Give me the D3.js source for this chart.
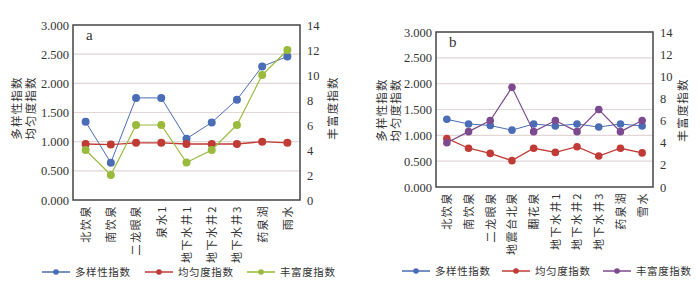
<!DOCTYPE html>
<html>
<head>
<meta charset="utf-8">
<script src="https://cdn.jsdelivr.net/npm/d3@7"></script>
<style>
  body { margin: 0; background: #fff; }
  svg text { font-family: "Liberation Serif", "Noto Sans CJK SC", serif; fill: #333; }
</style>
</head>
<body>
<div id="chart"></div>
<script>
// panel a data
const catsA = ["北饮泉", "南饮泉", "二龙眼泉", "泉水1", "地下水井1", "地下水井2", "地下水井3", "药泉湖", "雨水"];
const diversityA = [1.34, 0.64, 1.75, 1.75, 1.05, 1.33, 1.72, 2.29, 2.46];
const evennessA = [0.96, 0.95, 0.98, 0.98, 0.96, 0.96, 0.96, 1.00, 0.98];
const richnessA = [4, 2, 6, 6, 3, 4, 6, 10, 12];

// panel b data
const catsB = ["北饮泉", "南饮泉", "二龙眼泉", "地震台北泉", "翻花泉", "地下水井1", "地下水井2", "地下水井3", "药泉湖", "雪水"];
const diversityB = [1.31, 1.22, 1.19, 1.10, 1.22, 1.18, 1.22, 1.16, 1.22, 1.18];
const evennessB = [0.94, 0.75, 0.65, 0.51, 0.75, 0.67, 0.78, 0.60, 0.75, 0.66];
const richnessB = [4, 5, 6, 9, 5, 6, 5, 7, 5, 6];

const leftTicks = [0, 0.5, 1, 1.5, 2, 2.5, 3];
const rightTicks = [0, 2, 4, 6, 8, 10, 12, 14];
const seriesNames = ["多样性指数", "均匀度指数", "丰富度指数"];

const BLUE = "#4a6db5", RED = "#c03b35", GREEN = "#9aba3c", PURPLE = "#7c4a8e";

var svg = d3.select("#chart").append("svg")
    .attr("width", 700)
    .attr("height", 288);

drawPanel({
    letter: "a", cats: catsA, div: diversityA, even: evennessA, rich: richnessA,
    x0: 73, x1: 300, y0: 25, y1: 200, richColor: GREEN, r: 4,
    leftTitleX: 17, rightTitleX: 333, titleY: 108,
    legendX: [42, 145, 247], legendY: 272
});

drawPanel({
    letter: "b", cats: catsB, div: diversityB, even: evennessB, rich: richnessB,
    x0: 436, x1: 653, y0: 32, y1: 187, richColor: PURPLE, r: 3.8,
    leftTitleX: 382, rightTitleX: 683, titleY: 110,
    legendX: [402, 502, 603], legendY: 271
});

function drawPanel(p) {
    var g = svg.append("g");

    var x = d3.scalePoint().domain(p.cats).range([p.x0, p.x1]).padding(0.5);
    var yL = d3.scaleLinear().domain([0, 3]).range([p.y1, p.y0]);
    var yR = d3.scaleLinear().domain([0, 14]).range([p.y1, p.y0]);

    //grid lines
    g.selectAll(".grid")
        .data(leftTicks.filter(function(t) { return t > 0 && t < 3; }))
        .enter().append("line")
        .attr("x1", p.x0).attr("x2", p.x1)
        .attr("y1", function(d) { return yL(d); })
        .attr("y2", function(d) { return yL(d); })
        .attr("stroke", "#e2d6d6")
        .attr("stroke-width", 1.2);

    //left axis
    var axL = g.append("g")
        .attr("transform", "translate(" + p.x0 + ",0)")
        .call(d3.axisLeft(yL).tickValues(leftTicks).tickFormat(d3.format(".3f")).tickSize(0).tickPadding(4));
    //right axis
    var axR = g.append("g")
        .attr("transform", "translate(" + p.x1 + ",0)")
        .call(d3.axisRight(yR).tickValues(rightTicks).tickSize(0).tickPadding(7));
    [axL, axR].forEach(function(ax) {
        ax.select(".domain").remove();
        ax.selectAll("text").attr("font-size", 12.5).attr("fill", "#333")
            .style("font-family", "'Liberation Serif', serif");
    });

    //bottom axis labels, rotated
    var axB = g.append("g")
        .attr("transform", "translate(0," + p.y1 + ")")
        .call(d3.axisBottom(x).tickSize(0));
    axB.select(".domain").remove();
    axB.selectAll("text")
        .attr("font-size", 11)
        .attr("letter-spacing", 1.6)
        .attr("text-anchor", "end")
        .attr("transform", "rotate(-90)")
        .attr("x", -5)
        .attr("y", 0)
        .attr("dy", "0.35em")
        .attr("fill", "#333")
        .style("font-family", "'Noto Sans CJK SC', sans-serif");

    //frame
    g.append("rect")
        .attr("x", p.x0).attr("y", p.y0)
        .attr("width", p.x1 - p.x0).attr("height", p.y1 - p.y0)
        .attr("fill", "none")
        .attr("stroke", "#444")
        .attr("stroke-width", 1.5);

    //panel letter
    g.append("text")
        .attr("x", p.x0 + 13).attr("y", p.y0 + 15)
        .attr("font-size", 15)
        .text(p.letter);

    //axis titles
    var titles = [
        { x: p.leftTitleX, t: seriesNames[0] },
        { x: p.leftTitleX + 14, t: seriesNames[1] },
        { x: p.rightTitleX, t: seriesNames[2] }
    ];
    titles.forEach(function(t) {
        g.append("text")
            .attr("transform", "translate(" + t.x + "," + p.titleY + ") rotate(-90)")
            .attr("text-anchor", "middle").attr("dy", "0.35em")
            .attr("font-size", 11.5).attr("letter-spacing", 1.2)
            .style("font-family", "'Noto Sans CJK SC', sans-serif")
            .text(t.t);
    });

    //series
    var series = [
        { vals: p.div, y: yL, color: BLUE, w: 1 },
        { vals: p.even, y: yL, color: RED, w: 1.3 },
        { vals: p.rich, y: yR, color: p.richColor, w: 1.2 }
    ];
    series.forEach(function(s) {
        var pts = p.cats.map(function(c, i) { return [x(c), s.y(s.vals[i])]; });
        g.append("path")
            .attr("d", d3.line()(pts))
            .attr("fill", "none")
            .attr("stroke", s.color)
            .attr("stroke-width", s.w);
        g.selectAll(null)
            .data(pts)
            .enter().append("circle")
            .attr("cx", function(d) { return d[0]; })
            .attr("cy", function(d) { return d[1]; })
            .attr("r", p.r)
            .attr("fill", s.color);
    });

    //legend
    series.forEach(function(s, i) {
        var lx = p.legendX[i];
        g.append("line")
            .attr("x1", lx).attr("x2", lx + 28)
            .attr("y1", p.legendY).attr("y2", p.legendY)
            .attr("stroke", s.color).attr("stroke-width", 1.5);
        g.append("circle")
            .attr("cx", lx + 14).attr("cy", p.legendY).attr("r", 2.8)
            .attr("fill", s.color);
        g.append("text")
            .attr("x", lx + 33).attr("y", p.legendY)
            .attr("dy", "0.35em")
            .attr("font-size", 10.5).attr("letter-spacing", 0.6)
            .style("font-family", "'Noto Sans CJK SC', sans-serif")
            .text(seriesNames[i]);
    });
}
</script>
</body>
</html>
